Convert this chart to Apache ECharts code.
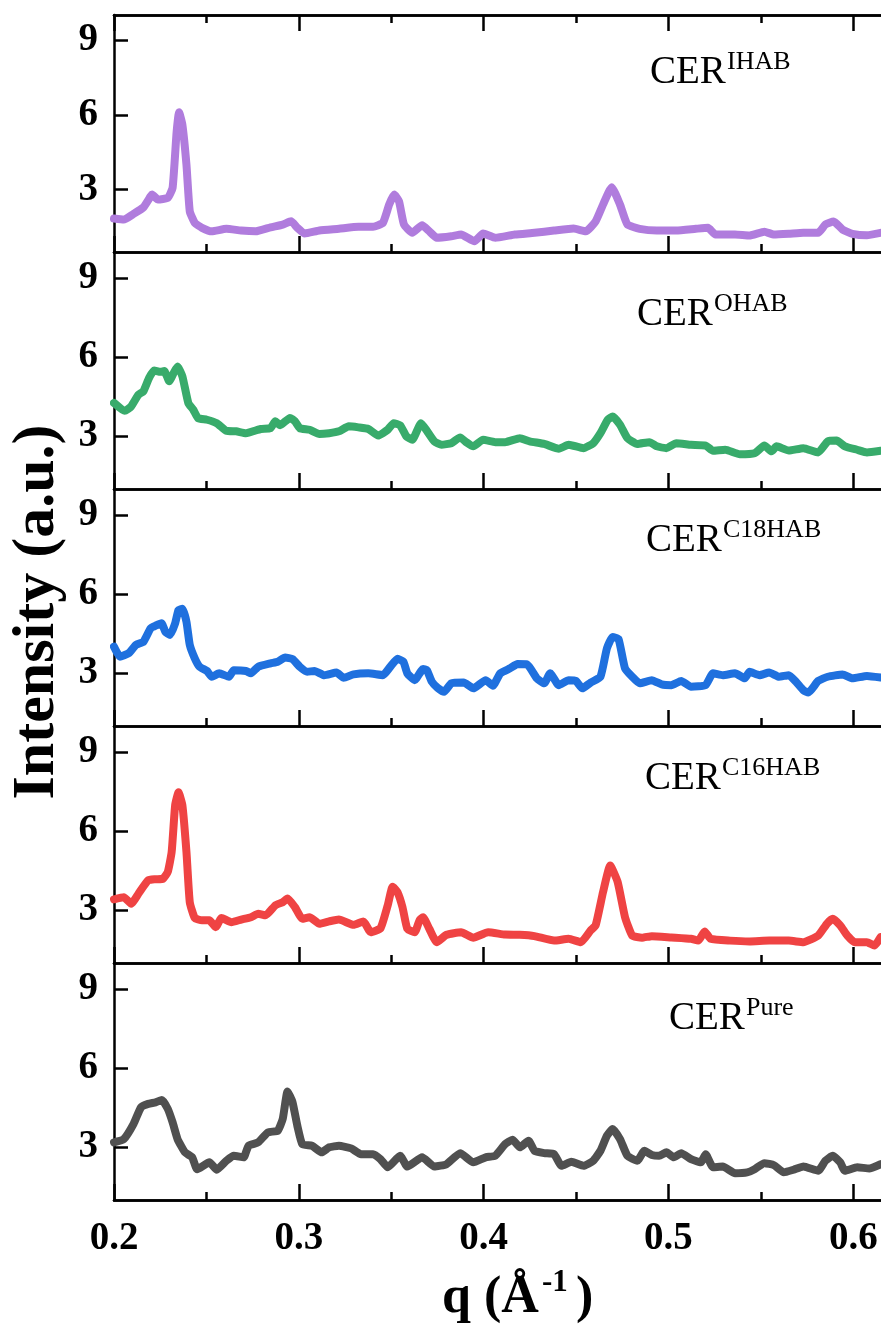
<!DOCTYPE html>
<html><head><meta charset="utf-8">
<script src="https://cdn.jsdelivr.net/npm/echarts@6/dist/echarts.min.js"></script>
<style>html,body{margin:0;padding:0;background:#fff}#c{width:881px;height:1329px}</style>
</head><body><div id="c"></div>
<script>
// ---------------- DATA ----------------
const sampleNames = ['IHAB', 'OHAB', 'C18HAB', 'C16HAB', 'Pure'];
const xTickValues = [0.2, 0.3, 0.4, 0.5, 0.6];
const xMinorTickValues = [0.25, 0.35, 0.45, 0.55];
const yTickValues = [3, 6, 9];
const qMin = 0.2, qMax = 0.615;
const yMins = [0.5, 1, 1, 1, 1];
const yMax = 10;

const ihab = [[0.2000,1.84],[0.2053,1.80],[0.2106,2.03],[0.2159,2.29],[0.2198,2.73],[0.2206,2.80],[0.2238,2.60],[0.2291,2.67],[0.2317,3.07],[0.2339,5.33],[0.2352,6.10],[0.2370,5.60],[0.2392,4.00],[0.2410,2.13],[0.2437,1.67],[0.2476,1.47],[0.2529,1.33],[0.2608,1.43],[0.2688,1.36],[0.2767,1.33],[0.2847,1.49],[0.2913,1.60],[0.2958,1.73],[0.2992,1.47],[0.3032,1.24],[0.3111,1.36],[0.3217,1.43],[0.3323,1.51],[0.3402,1.51],[0.3455,1.67],[0.3489,2.40],[0.3516,2.80],[0.3542,2.53],[0.3569,1.60],[0.3614,1.27],[0.3667,1.57],[0.3706,1.33],[0.3746,1.07],[0.3825,1.13],[0.3878,1.20],[0.3950,0.93],[0.3997,1.24],[0.4063,1.07],[0.4169,1.20],[0.4275,1.27],[0.4381,1.36],[0.4487,1.44],[0.4553,1.33],[0.4606,1.73],[0.4646,2.40],[0.4693,3.10],[0.4738,2.40],[0.4778,1.60],[0.4844,1.43],[0.4937,1.36],[0.5042,1.36],[0.5148,1.43],[0.5214,1.47],[0.5254,1.20],[0.5360,1.20],[0.5439,1.16],[0.5519,1.31],[0.5571,1.20],[0.5651,1.23],[0.5730,1.27],[0.5810,1.27],[0.5849,1.60],[0.5894,1.72],[0.5942,1.40],[0.5995,1.23],[0.6074,1.17],[0.6148,1.27]];

const ohab = [[0.2000,4.27],[0.2058,3.97],[0.2093,4.14],[0.2132,4.58],[0.2159,4.71],[0.2190,5.22],[0.2217,5.50],[0.2251,5.45],[0.2272,5.48],[0.2299,5.09],[0.2323,5.41],[0.2344,5.65],[0.2370,5.28],[0.2402,4.27],[0.2429,4.01],[0.2455,3.69],[0.2503,3.63],[0.2556,3.50],[0.2608,3.21],[0.2661,3.19],[0.2714,3.12],[0.2794,3.28],[0.2847,3.31],[0.2873,3.57],[0.2899,3.42],[0.2952,3.70],[0.2979,3.57],[0.3005,3.31],[0.3058,3.25],[0.3111,3.09],[0.3164,3.12],[0.3217,3.19],[0.3270,3.38],[0.3323,3.34],[0.3376,3.28],[0.3429,3.03],[0.3481,3.25],[0.3513,3.50],[0.3548,3.42],[0.3582,3.00],[0.3614,2.87],[0.3661,3.50],[0.3693,3.21],[0.3733,2.81],[0.3772,2.68],[0.3825,2.74],[0.3873,2.96],[0.3905,2.78],[0.3944,2.62],[0.3997,2.87],[0.4063,2.78],[0.4116,2.78],[0.4196,2.93],[0.4249,2.81],[0.4328,2.71],[0.4407,2.53],[0.4460,2.68],[0.4540,2.55],[0.4593,2.74],[0.4632,3.12],[0.4672,3.63],[0.4698,3.75],[0.4738,3.44],[0.4778,2.93],[0.4831,2.71],[0.4897,2.78],[0.4937,2.62],[0.4989,2.55],[0.5042,2.74],[0.5122,2.68],[0.5201,2.65],[0.5241,2.45],[0.5307,2.49],[0.5386,2.32],[0.5466,2.36],[0.5519,2.65],[0.5558,2.43],[0.5585,2.62],[0.5651,2.46],[0.5730,2.55],[0.5810,2.39],[0.5862,2.81],[0.5910,2.84],[0.5955,2.62],[0.6021,2.49],[0.6074,2.39],[0.6148,2.45]];

const c18hab = [[0.2000,4.01],[0.2032,3.63],[0.2079,3.76],[0.2119,4.08],[0.2159,4.20],[0.2198,4.71],[0.2225,4.81],[0.2257,4.90],[0.2278,4.58],[0.2304,4.46],[0.2331,4.90],[0.2349,5.40],[0.2370,5.45],[0.2392,4.96],[0.2410,4.08],[0.2437,3.57],[0.2463,3.25],[0.2503,3.09],[0.2529,2.87],[0.2569,3.00],[0.2622,2.87],[0.2648,3.12],[0.2714,3.09],[0.2741,3.00],[0.2780,3.25],[0.2847,3.38],[0.2886,3.44],[0.2926,3.60],[0.2966,3.54],[0.3005,3.25],[0.3045,3.06],[0.3085,3.09],[0.3138,2.93],[0.3204,3.03],[0.3243,2.83],[0.3296,2.96],[0.3376,3.00],[0.3455,2.93],[0.3495,3.25],[0.3534,3.55],[0.3566,3.44],[0.3587,3.00],[0.3627,2.74],[0.3672,3.16],[0.3693,3.12],[0.3720,2.68],[0.3751,2.45],[0.3786,2.30],[0.3825,2.62],[0.3892,2.65],[0.3944,2.43],[0.4011,2.74],[0.4050,2.53],[0.4090,3.00],[0.4143,3.19],[0.4183,3.35],[0.4235,3.34],[0.4288,2.81],[0.4328,2.62],[0.4360,3.00],[0.4407,2.55],[0.4460,2.74],[0.4500,2.71],[0.4534,2.43],[0.4579,2.65],[0.4632,2.87],[0.4667,3.95],[0.4698,4.38],[0.4730,4.30],[0.4765,3.19],[0.4804,2.87],[0.4844,2.62],[0.4910,2.74],[0.4963,2.58],[0.5016,2.55],[0.5069,2.71],[0.5122,2.49],[0.5201,2.55],[0.5241,3.00],[0.5294,2.93],[0.5360,3.00],[0.5413,2.81],[0.5439,3.06],[0.5492,2.93],[0.5545,3.03],[0.5598,2.87],[0.5651,2.93],[0.5690,2.68],[0.5730,2.36],[0.5757,2.27],[0.5810,2.71],[0.5862,2.87],[0.5942,2.96],[0.5995,2.81],[0.6074,2.90],[0.6148,2.84]];

const c16hab = [[0.2000,3.42],[0.2053,3.50],[0.2093,3.25],[0.2132,3.63],[0.2185,4.14],[0.2225,4.18],[0.2265,4.20],[0.2291,4.46],[0.2312,5.22],[0.2331,7.00],[0.2349,7.48],[0.2370,6.99],[0.2392,5.22],[0.2410,3.31],[0.2437,2.71],[0.2476,2.62],[0.2516,2.62],[0.2550,2.36],[0.2582,2.71],[0.2635,2.55],[0.2688,2.65],[0.2741,2.74],[0.2780,2.87],[0.2820,2.81],[0.2873,3.19],[0.2913,3.31],[0.2939,3.45],[0.2979,3.12],[0.3019,2.68],[0.3058,2.74],[0.3111,2.49],[0.3164,2.58],[0.3217,2.65],[0.3296,2.45],[0.3349,2.58],[0.3389,2.17],[0.3442,2.32],[0.3481,3.19],[0.3508,3.90],[0.3534,3.69],[0.3561,3.12],[0.3587,2.30],[0.3627,2.17],[0.3653,2.62],[0.3672,2.74],[0.3706,2.30],[0.3746,1.79],[0.3799,2.07],[0.3878,2.17],[0.3944,1.96],[0.4024,2.17],[0.4116,2.08],[0.4196,2.07],[0.4275,2.02],[0.4381,1.85],[0.4460,1.92],[0.4526,1.79],[0.4579,2.24],[0.4606,2.43],[0.4646,3.69],[0.4685,4.70],[0.4725,4.08],[0.4765,2.74],[0.4804,2.04],[0.4857,1.96],[0.4910,2.02],[0.5016,1.97],[0.5122,1.92],[0.5161,1.85],[0.5196,2.20],[0.5228,1.92],[0.5333,1.85],[0.5439,1.82],[0.5545,1.85],[0.5651,1.85],[0.5730,1.79],[0.5810,2.04],[0.5857,2.49],[0.5889,2.68],[0.5929,2.43],[0.5968,2.04],[0.6008,1.79],[0.6074,1.79],[0.6114,1.66],[0.6148,1.98]];

const pure = [[0.2000,3.19],[0.2053,3.31],[0.2106,3.89],[0.2146,4.52],[0.2185,4.65],[0.2225,4.71],[0.2259,4.80],[0.2291,4.46],[0.2317,3.95],[0.2344,3.31],[0.2384,2.81],[0.2423,2.62],[0.2450,2.17],[0.2516,2.43],[0.2556,2.15],[0.2608,2.49],[0.2648,2.68],[0.2701,2.62],[0.2728,3.06],[0.2780,3.19],[0.2833,3.57],[0.2886,3.63],[0.2913,4.08],[0.2939,5.12],[0.2966,4.71],[0.2992,3.82],[0.3019,3.12],[0.3071,3.06],[0.3124,2.81],[0.3164,3.00],[0.3217,3.06],[0.3283,2.96],[0.3336,2.74],[0.3402,2.74],[0.3442,2.55],[0.3481,2.24],[0.3548,2.68],[0.3587,2.27],[0.3667,2.62],[0.3733,2.27],[0.3799,2.36],[0.3873,2.78],[0.3944,2.43],[0.4011,2.62],[0.4063,2.68],[0.4116,3.12],[0.4156,3.29],[0.4196,3.00],[0.4243,3.25],[0.4275,2.87],[0.4328,2.78],[0.4381,2.74],[0.4421,2.30],[0.4474,2.45],[0.4540,2.30],[0.4593,2.49],[0.4632,2.87],[0.4667,3.44],[0.4698,3.70],[0.4738,3.31],[0.4778,2.68],[0.4831,2.49],[0.4870,2.87],[0.4910,2.71],[0.4950,2.68],[0.4989,2.81],[0.5029,2.62],[0.5069,2.78],[0.5122,2.55],[0.5175,2.43],[0.5201,2.74],[0.5241,2.24],[0.5294,2.27],[0.5360,2.02],[0.5426,2.05],[0.5466,2.17],[0.5519,2.40],[0.5571,2.32],[0.5624,2.05],[0.5677,2.15],[0.5730,2.27],[0.5810,2.11],[0.5849,2.49],[0.5889,2.68],[0.5929,2.43],[0.5955,2.11],[0.6021,2.24],[0.6087,2.20],[0.6148,2.36]];

const seriesData = [ihab, ohab, c18hab, c16hab, pure];

// ---------------- STYLE / LAYOUT ----------------
const colors = ['#B07CDD', '#38AB6B', '#1F70DE', '#EF4343', '#505050'];
const gridTops = [15, 252, 489, 726, 963];
const gridH = 237;
const labelX = [650, 637, 646, 645, 669];
const labelY = [72.5, 314.5, 540.5, 778.5, 1018.5];
const SERIF = '"Liberation Serif", "Times New Roman", serif';
const AX = '#000';
const AXW = 2.5;

const grids = gridTops.map(t => ({ left: 114, right: 0, top: t, height: gridH }));

const xAxes = [];
const majorIdx = [];
function addX(gi, position, major, showLabel) {
  xAxes.push({
    type: 'value', gridIndex: gi, position: position, min: qMin, max: qMax,
    axisLine: { show: true, onZero: false, lineStyle: { color: AX, width: AXW } },
    axisTick: { show: true, inside: true, length: major ? 16 : 8,
      customValues: major ? xTickValues : xMinorTickValues,
      lineStyle: { color: AX, width: AXW } },
    axisLabel: showLabel ? {
      show: true, customValues: xTickValues, margin: 19, color: '#000',
      fontFamily: SERIF, fontWeight: 'bold', fontSize: 39,
      formatter: v => v.toFixed(1)
    } : { show: false },
    splitLine: { show: false }
  });
  return xAxes.length - 1;
}
for (let i = 0; i < 5; i++) {
  majorIdx.push(addX(i, 'bottom', true, i === 4));
  addX(i, 'bottom', false, false);
}
addX(0, 'top', true, false);
addX(0, 'top', false, false);

const yAxes = yMins.map((mn, i) => ({
  type: 'value', gridIndex: i, min: mn, max: yMax, position: 'left',
  axisLine: { show: true, lineStyle: { color: AX, width: AXW } },
  axisTick: { show: true, inside: true, length: 14, customValues: yTickValues,
    lineStyle: { color: AX, width: AXW } },
  axisLabel: { show: true, customValues: yTickValues, margin: 16, color: '#000',
    fontFamily: SERIF, fontWeight: 'bold', fontSize: 39 },
  splitLine: { show: false }
}));

const series = seriesData.map((d, i) => ({
  type: 'line', name: sampleNames[i], xAxisIndex: majorIdx[i], yAxisIndex: i,
  data: d, showSymbol: false, symbol: 'none', smooth: 0.15,
  lineStyle: { color: colors[i], width: 8, cap: 'round', join: 'round' },
  z: 1
}));

const graphics = [];
sampleNames.forEach((nm, i) => {
  graphics.push({ type: 'text', x: labelX[i], y: labelY[i],
    style: { text: 'CER', font: '39px ' + SERIF, fill: '#000', textAlign: 'left', textVerticalAlign: 'middle' } });
  graphics.push({ type: 'text', x: labelX[i] + 77, y: labelY[i] - 10.5,
    style: { text: nm, font: '26px ' + SERIF, fill: '#000', textAlign: 'left', textVerticalAlign: 'middle' } });
});
graphics.push({ type: 'text', x: 37, y: 612, rotation: Math.PI / 2,
  style: { text: 'Intensity (a.u.)', font: 'bold 60px ' + SERIF, fill: '#000', textAlign: 'center', textVerticalAlign: 'middle' } });
graphics.push({ type: 'text', x: 442, y: 1299,
  style: { text: 'q (Å', font: 'bold 52px ' + SERIF, fill: '#000', textAlign: 'left', textVerticalAlign: 'middle' } });
graphics.push({ type: 'text', x: 542, y: 1283,
  style: { text: '-1', font: 'bold 31px ' + SERIF, fill: '#000', textAlign: 'left', textVerticalAlign: 'middle' } });
graphics.push({ type: 'text', x: 576, y: 1299,
  style: { text: ')', font: 'bold 52px ' + SERIF, fill: '#000', textAlign: 'left', textVerticalAlign: 'middle' } });

const chart = echarts.init(document.getElementById('c'), null, { renderer: 'canvas' });
chart.setOption({
  animation: false,
  backgroundColor: '#fff',
  grid: grids,
  xAxis: xAxes,
  yAxis: yAxes,
  series: series,
  graphic: graphics
});
</script>
</body></html>
